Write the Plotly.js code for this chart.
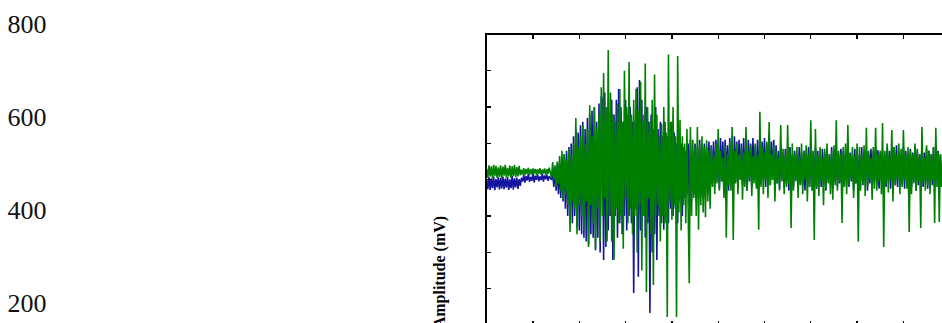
<!DOCTYPE html>
<html>
<head>
<meta charset="utf-8">
<script src="https://cdn.plot.ly/plotly-3.0.1.min.js"></script>
<style>
html,body{margin:0;padding:0;overflow:hidden;background:#fff;}
#chart{width:1000px;height:400px;}
</style>
</head>
<body>
<div id="chart"></div>
<script>
// sample spacing (s)
const sampleStep = 0.025;

// channel 2 (blue) amplitude samples
const blueSignal = [
  400,374,408,372,404,377,409,371,402,379, 407,373,405,376,409,374,403,378,408,372,
  401,377,410,373,404,379,406,375,402,383,
  405,395,414,392,410,398,416,394,408,397, 418,393,411,400,415,396,409,399,417,395,
  412,401,414,397,410,404,
  400,420,380,430,370,445,360,440,350,460, 340,470,320,480,300,490,290,500,280,520,
  300,540,270,530,260,550,250,560,240,540, 230,570,220,580,250,590,240,600,206,560,
  240,610,200,630,
  620,179,640,215,600,260,580,300,620,179, 580,300,620,240,650,280,600,250,560,300,
  620,260,580,300,600,280,560,88,560,320, 655,133,675,260,620,300,580,240,600,280,
  560,33,580,200,540,250,600,179,540,300, 560,280,520,262,560,300,520,280,540,320,
  560,300,530,320,500,280,520,340,500,300, 490,350,480,360,500,330,510,340,480,360,
  500,340,490,370,510,350,480,360,500,380, 490,360,505,380,
  495,390,505,380,510,400,500,375,515,395, 505,385,510,400,495,370,515,390,505,380,
  520,395,505,375,510,400,500,385,515,390, 505,370,510,395,500,380,515,400,495,385,
  510,375,520,390,505,400,515,380,500,395, 530,385,505,400,510,370,495,390,480,375,
  490,400,470,380,485,390,475,370,490,395, 470,380,480,400,465,375,490,390,475,385,
  480,370,470,395,490,380,475,400,465,385, 490,375,480,395,470,380,485,390,475,370,
  480,400,470,385,490,375,475,395,480,380, 470,390,485,375,480,400,470,385,490,380,
  475,395,470,370,485,390,480,380,470,395, 490,385,475,400,480,370,470,390,485,380,
  480,395,490,385,482,375,475,400,480,390, 470,380,490,395,480,375,485,400,490,385,
  495,380,480,395,470,385,490,375,480,400, 470,390,485,380,475,395,490,370,480,385,
  470,400,490,380,475,390,485,375,480,395, 470,385,490,380,475,400,480,390,470,385,
  440
];

// channel 1 (green) amplitude samples
const greenSignal = [
  430,406,440,409,437,404,441,410,438,405, 434,408,440,404,436,411,441,406,433,409,
  439,404,437,410,441,407,435,409,438,412,
  428,414,432,413,430,416,433,412,429,415, 431,417,430,413,429,416,432,414,428,417,
  431,413,429,416,433,418,
  405,449,400,440,380,450,390,465,370,480, 345,470,360,455,330,485,256,470,340,500,
  320,570,250,490,330,520,300,550,260,500, 340,540,215,605,330,520,280,600,210,540,
  320,580,230,655,
  300,694,350,600,230,757,300,640,230,580, 180,560,320,610,280,650,300,560,210,700,
  350,600,280,724,320,580,250,620,300,650, 200,590,330,670,150,560,300,720,90,600,
  350,560,250,620,110,690,300,580,330,520, 230,555,300,600,280,530,22,745,340,560,
  290,600,330,520,22,741,310,565,260,520, 330,500,280,540,340,115,545,300,510,350,
  490,300,545,262,500,330,520,310,490,297, 509,340,480,320,
  490,380,470,360,500,390,540,370,480,395, 460,350,495,240,470,385,505,370,545,234,
  480,390,500,360,470,400,490,345,475,380, 545,370,480,400,495,355,465,390,500,375,
  470,262,587,380,490,360,475,395,505,350, 559,385,470,400,495,340,480,390,460,370,
  551,395,485,360,470,380,551,390,480,267, 500,370,470,395,490,350,465,385,500,360,
  480,400,495,340,470,380,564,370,480,234, 540,380,470,355,490,395,460,330,485,375,
  500,390,470,360,480,345,495,385,564,370, 480,395,470,281,490,380,500,360,551,385,
  470,400,490,350,465,390,500,229,490,370, 470,390,495,355,543,380,480,400,460,345,
  490,375,543,370,470,395,480,360,556,215, 480,390,500,365,470,400,537,340,490,385,
  470,395,500,360,485,380,537,400,470,375, 490,256,480,360,470,390,500,370,485,395,
  470,267,545,390,460,370,495,385,480,360, 470,400,490,281,543,380,475,284,470,380,
  450
];

// outer scale labels on the far left
const outerTickValues = [200, 400, 600, 800];
const outerTickLabels = ['200', '400', '600', '800'];
const yAxisTitle = 'Amplitude (mV)';

const serif = 'Liberation Serif, Times New Roman, serif';

const traces = [
  {
    type: 'scatter', mode: 'lines', y: blueSignal, x0: 0, dx: sampleStep,
    line: {color: 'rgb(20,20,160)', width: 1.6}, hoverinfo: 'skip'
  },
  {
    type: 'scatter', mode: 'lines', y: greenSignal, x0: 0, dx: sampleStep,
    line: {color: 'rgb(0,128,0)', width: 1.6}, hoverinfo: 'skip'
  },
  {
    type: 'scatter', mode: 'lines', x: [], y: [], yaxis: 'y2', hoverinfo: 'skip'
  }
];

const frameAxis = {
  showline: true, linecolor: '#000', linewidth: 2, mirror: 'ticks',
  ticks: 'inside', ticklen: 4, tickwidth: 1.3, tickcolor: '#000',
  showticklabels: false, showgrid: false, zeroline: false, fixedrange: true
};

const layout = {
  width: 1000, height: 400,
  margin: {l: 0, r: 0, t: 0, b: 0, pad: 0},
  paper_bgcolor: '#fff', plot_bgcolor: 'rgba(0,0,0,0)',
  showlegend: false,
  xaxis: Object.assign({}, frameAxis, {domain: [0.4867, 0.9497], range: [0, 10], dtick: 1, tick0: 0}),
  yaxis: Object.assign({}, frameAxis, {domain: [0.1875, 0.91375], range: [0, 800], dtick: 100, tick0: 0}),
  yaxis2: {
    domain: [0, 1], anchor: 'free', position: 0.0065, side: 'right',
    range: [-10.2, 852.2], tickmode: 'array', tickvals: outerTickValues, ticktext: outerTickLabels,
    ticks: '', showline: false, showgrid: false, zeroline: false, fixedrange: true,
    tickfont: {family: serif, size: 26, color: '#111'}
  },
  annotations: [{
    text: '<b>' + yAxisTitle + '</b>', xref: 'paper', yref: 'paper',
    x: 0.4395, y: 0.318, xanchor: 'center', yanchor: 'middle',
    textangle: -90, showarrow: false,
    font: {family: serif, size: 16, color: '#000'}
  }]
};

Plotly.newPlot('chart', traces, layout, {staticPlot: true, displayModeBar: false});
</script>
</body>
</html>
